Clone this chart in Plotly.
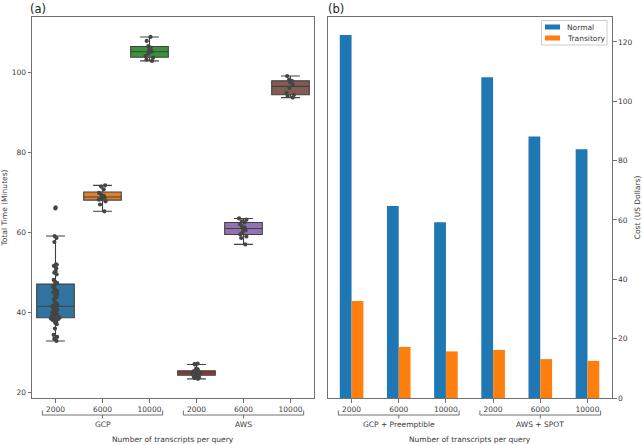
import plotly.graph_objects as go

# ---------------- data ----------------
tick_labels = ["2000", "6000", "10000", "2000", "6000", "10000"]
groups_a = ["GCP", "AWS"]
groups_b = ["GCP + Preemptible", "AWS + SPOT"]
series_names = ["Normal", "Transitory"]

gcp_2000 = [32.8, 33.3, 33.8, 34.3, 35.9, 37.0, 37.3, 37.6, 37.8, 38.0, 38.1, 38.2, 38.3, 38.4,
            38.5, 38.7, 38.9, 39.0, 39.1, 39.3, 39.4, 39.6, 39.9, 40.0, 40.2, 40.5, 40.6, 40.8,
            41.1, 41.4, 41.6, 41.7, 41.9, 42.3, 42.8, 43.3, 43.8, 44.2, 44.6, 45.0, 45.3, 45.6,
            46.0, 46.5, 46.8, 47.3, 47.7, 48.1, 49.5, 49.9, 50.3, 51.0, 51.6, 51.9, 52.0, 57.6,
            58.6, 59.1, 66.0, 66.3]
gcp_6000 = [65.3, 67.0, 67.8, 68.2, 68.5, 68.7, 68.9, 69.2, 69.5, 69.9, 70.8, 71.5, 71.8]
gcp_10000 = [103.0, 103.3, 103.8, 104.2, 104.8, 105.3, 105.8, 106.3, 106.7, 108.0, 109.0]
aws_2000 = [23.3, 23.5, 23.7, 23.9, 24.0, 24.1, 24.2, 24.2, 24.3, 24.4, 24.5, 24.5, 24.6, 24.7,
            24.7, 24.8, 24.8, 24.9, 25.0, 25.0, 25.1, 25.2, 25.3, 25.3, 25.4, 25.5, 25.7, 25.9,
            26.9, 27.0, 27.1]
aws_6000 = [57.0, 58.6, 59.0, 59.5, 60.0, 60.5, 60.8, 61.2, 61.5, 62.0, 62.5, 62.8, 63.2, 63.5]
aws_10000 = [93.8, 94.2, 94.5, 95.0, 96.2, 97.0, 97.6, 98.0, 98.3, 99.2]
time_series = [gcp_2000, gcp_6000, gcp_10000, aws_2000, aws_6000, aws_10000]

cost_normal = [122.3, 64.7, 59.2, 108.1, 88.1, 83.8]
cost_transitory = [32.7, 17.2, 15.7, 16.2, 13.1, 12.5]

# ---------------- style ----------------
box_colors = ["#3274a1", "#e1812c", "#3a923a", "#c03d3e", "#9372b2", "#845b53"]
bar_colors = ["#1f77b4", "#ff7f0e"]
txt = "#3a3a3a"
axc = "#707070"
FS = 7.5
FONT = "DejaVu Sans"

fig = go.Figure()

for i, vals in enumerate(time_series):
    fig.add_trace(go.Box(
        y=vals, x=[i] * len(vals), width=0.8, whiskerwidth=0.5,
        boxpoints="all", jitter=0.25, pointpos=0,
        fillcolor=box_colors[i],
        line=dict(color="#404040", width=1.1),
        marker=dict(color="#454545", size=4.2),
        showlegend=False, xaxis="x", yaxis="y",
    ))

xpos = list(range(len(tick_labels)))
for name, vals, col in zip(series_names, [cost_normal, cost_transitory], bar_colors):
    fig.add_trace(go.Bar(x=xpos, y=vals, name=name, marker=dict(color=col, line=dict(width=0)),
                         xaxis="x2", yaxis="y2", showlegend=False))

axis_common = dict(showgrid=False, zeroline=False, showline=True, linecolor=axc, linewidth=1,
                   mirror=True, ticks="outside", ticklen=3.5, tickcolor=axc, automargin=False,
                   tickfont=dict(family=FONT, size=FS, color=txt))

fig.update_layout(
    template="none",
    width=642, height=445,
    margin=dict(l=32, r=30, t=17, b=47, autoexpand=False),
    paper_bgcolor="white", plot_bgcolor="white",
    font=dict(family=FONT, size=FS, color=txt),
    barmode="group", bargap=0.5, bargroupgap=0,
    boxmode="overlay",
    showlegend=False,
    xaxis=dict(domain=[0, 0.4862], range=[-0.5, 5.5], tickvals=xpos, ticktext=tick_labels, **axis_common),
    yaxis=dict(range=[18.5, 114], tickvals=[20, 40, 60, 80, 100],
               title=dict(text="Total Time (Minutes)", font=dict(family=FONT, size=FS, color=txt), standoff=6),
               **axis_common),
    xaxis2=dict(domain=[0.5103, 1], range=[-0.5, 5.52], tickvals=xpos, ticktext=tick_labels,
                anchor="y2", **axis_common),
    yaxis2=dict(range=[0, 128.4], tickvals=[0, 20, 40, 60, 80, 100, 120], side="right", anchor="x2",
                title=dict(text="Cost (US Dollars)", font=dict(family=FONT, size=FS, color=txt), standoff=6),
                **axis_common),
)

# brackets and group labels
def y_paper(py):
    return (398 - py) / 381.0

def x_paper(px):
    return (px - 32) / 580.0

shapes = []
annotations = []
for xr, groups in (("x", groups_a), ("x2", groups_b)):
    for gi, (lo, hi, mid) in enumerate(((-0.28, 2.28, 1), (2.72, 5.28, 4))):
        ln = dict(color=axc, width=1)
        shapes.append(dict(type="line", xref=xr, yref="paper", x0=lo, x1=hi, y0=y_paper(415), y1=y_paper(415), line=ln))
        shapes.append(dict(type="line", xref=xr, yref="paper", x0=lo, x1=lo, y0=y_paper(410.5), y1=y_paper(415), line=ln))
        shapes.append(dict(type="line", xref=xr, yref="paper", x0=hi, x1=hi, y0=y_paper(410.5), y1=y_paper(415), line=ln))
        shapes.append(dict(type="line", xref=xr, yref="paper", x0=mid, x1=mid, y0=y_paper(415), y1=y_paper(418.5), line=ln))
        annotations.append(dict(text=groups[gi], xref=xr, yref="paper", x=mid, y=y_paper(424.5),
                                showarrow=False, xanchor="center", yanchor="middle",
                                font=dict(family=FONT, size=FS, color=txt)))

for xr in ("x domain", "x2 domain"):
    annotations.append(dict(text="Number of transcripts per query", xref=xr, yref="paper", x=0.5,
                            y=y_paper(439.5), showarrow=False, yanchor="middle",
                            font=dict(family=FONT, size=FS, color=txt)))
annotations.append(dict(text="(a)", xref="paper", yref="paper", x=x_paper(28), y=y_paper(9), xanchor="left",
                        yanchor="middle", showarrow=False, font=dict(family=FONT, size=11.5, color="#222222")))
annotations.append(dict(text="(b)", xref="paper", yref="paper", x=x_paper(326), y=y_paper(9), xanchor="left",
                        yanchor="middle", showarrow=False, font=dict(family=FONT, size=11.5, color="#222222")))

# legend (manual, compact like the reference)
shapes.append(dict(type="rect", xref="paper", yref="paper", x0=x_paper(541.5), x1=x_paper(607),
                   y0=y_paper(45), y1=y_paper(20.5), line=dict(color="#cccccc", width=1), fillcolor="white"))
for k, (name, col) in enumerate(zip(series_names, bar_colors)):
    cy = 27 + k * 11
    shapes.append(dict(type="rect", xref="paper", yref="paper", x0=x_paper(545), x1=x_paper(560),
                       y0=y_paper(cy + 2.5), y1=y_paper(cy - 2.5), line=dict(width=0), fillcolor=col))
    annotations.append(dict(text=name, xref="paper", yref="paper", x=x_paper(565), y=y_paper(cy),
                            xanchor="left", yanchor="middle", showarrow=False,
                            font=dict(family=FONT, size=FS, color=txt)))

fig.update_layout(shapes=shapes, annotations=annotations)

fig.write_html("out.html", config={"displayModeBar": False},
               post_script="document.body.style.margin='0';document.body.style.overflow='hidden';")
